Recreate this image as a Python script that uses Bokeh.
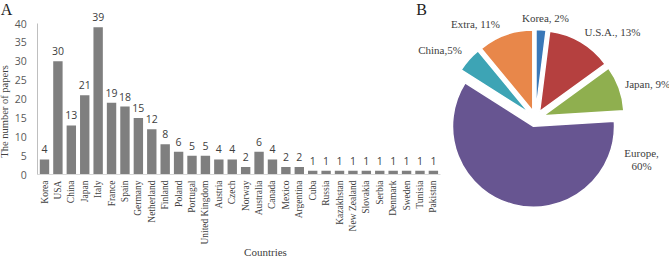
import math

from bokeh.core.properties import value
from bokeh.embed import file_html
from bokeh.models import FixedTicker, Label, LinearAxis, Range1d
from bokeh.plotting import figure
from bokeh.resources import INLINE

# Panel A: papers per country
countries = ["Korea", "USA", "China", "Japan", "Italy", "France", "Spain", "Germany",
             "Netherland", "Finland", "Poland", "Portugal", "United Kingdom", "Austria",
             "Czech", "Norway", "Australia", "Canada", "Mexico", "Argentina", "Cuba",
             "Russia", "Kazakhstan", "New Zealand", "Slovakia", "Serbia", "Denmark",
             "Sweden", "Tunisia", "Pakistan"]
papers = [4, 30, 13, 21, 39, 19, 18, 15, 12, 8, 6, 5, 5, 4, 4, 2, 6, 4, 2, 2,
          1, 1, 1, 1, 1, 1, 1, 1, 1, 1]
y_ticks = [0, 5, 10, 15, 20, 25, 30, 35, 40]

# Panel B: share by region (clockwise from 12 o'clock)
regions = ["Korea", "U.S.A.", "Japan", "Europe", "China", "Extra"]
shares = [2, 13, 9, 60, 5, 11]
separators = [", ", ", ", ", ", ",\n", ",", ", "]
region_colors = ["#3A78B8", "#B5403F", "#8FAF4F", "#675591", "#3DA4B5", "#E8874A"]

W, H = 669, 257

# bar panel scale (pixels per category / per paper)
step = 13.41
first_center = 44.0
unit = 3.775
zero_px = 174.0

x_start = -first_center / step
y_start = -(H - zero_px) / unit

p = figure(width=W, height=H,
           x_range=Range1d(x_start, x_start + W / step),
           y_range=Range1d(y_start, y_start + H / unit),
           x_axis_type=None, y_axis_type=None,
           output_backend="svg", toolbar_location=None, min_border=0)
p.outline_line_color = None
p.background_fill_color = "white"
p.border_fill_color = "white"

# pixel-based ranges for the pie and free labels
p.extra_x_ranges = {"px": Range1d(0, W)}
p.extra_y_ranges = {"py": Range1d(0, H)}

idx = list(range(len(countries)))
p.vbar(x=idx, top=papers, bottom=0, width=0.7, fill_color="#7F7F7F", line_color=None)
p.text(x=idx, y=papers, text=[str(v) for v in papers],
       text_align="center", text_baseline="bottom", y_offset=-6,
       text_font=value("Open Sans"), text_font_size="10.5px", text_color="#404040")

yax = LinearAxis(fixed_location=-0.5, bounds=(0, 40), ticker=FixedTicker(ticks=y_ticks))
yax.axis_line_color = "#BFBFBF"
yax.major_tick_line_color = None
yax.minor_tick_line_color = None
yax.major_tick_out = 0
yax.major_label_standoff = 11
yax.major_label_text_font = "Open Sans"
yax.major_label_text_font_size = "10.5px"
yax.major_label_text_color = "#595959"
p.add_layout(yax, "left")

xax = LinearAxis(fixed_location=0, bounds=(-0.5, len(countries) - 0.5),
                 ticker=FixedTicker(ticks=idx),
                 major_label_overrides={i: c for i, c in enumerate(countries)})
xax.major_label_orientation = math.pi / 2
xax.axis_line_color = "#D9D9D9"
xax.major_tick_line_color = None
xax.minor_tick_line_color = None
xax.major_tick_out = 0
xax.major_label_standoff = 6
xax.major_label_text_font = "Liberation Serif"
xax.major_label_text_font_size = "9.5px"
xax.major_label_text_color = "#404040"
p.add_layout(xax, "below")

serif = "Liberation Serif"
p.add_layout(Label(x=4, y=H - 111, text="The number of papers", angle=math.pi / 2,
                   text_align="center", text_baseline="middle", text_font=serif,
                   text_font_size="10.5px", text_color="#404040",
                   x_range_name="px", y_range_name="py"))
p.add_layout(Label(x=265, y=H - 251, text="Countries", text_align="center",
                   text_baseline="middle", text_font=serif, text_font_size="11px",
                   text_color="#404040", x_range_name="px", y_range_name="py"))
p.add_layout(Label(x=6, y=H - 9, text="A", text_align="center", text_baseline="middle",
                   text_font=serif, text_font_size="16px", text_color="#222222",
                   x_range_name="px", y_range_name="py"))
p.add_layout(Label(x=421, y=H - 9, text="B", text_align="center", text_baseline="middle",
                   text_font=serif, text_font_size="16px", text_color="#222222",
                   x_range_name="px", y_range_name="py"))

# exploded pie
cx, cy, radius, explode = 535.0, H - 118.0, 81.0, 8.0
total = float(sum(shares))
starts, ends, wx, wy = [], [], [], []
acc = 0.0
for s in shares:
    f0, f1 = acc / total, (acc + s) / total
    a_end = math.pi / 2 - 2 * math.pi * f0
    a_start = math.pi / 2 - 2 * math.pi * f1
    mid = (a_start + a_end) / 2
    starts.append(a_start)
    ends.append(a_end)
    wx.append(cx + explode * math.cos(mid))
    wy.append(cy + explode * math.sin(mid))
    acc += s

p.wedge(x=wx, y=wy, radius=radius, start_angle=starts, end_angle=ends,
        fill_color=region_colors, line_color="white", line_width=1.5,
        x_range_name="px", y_range_name="py")

label_px = [545, 612, 647, 641, 439.5, 475]
label_py = [H - 17, H - 31, H - 83, H - 159, H - 49.5, H - 23]
region_labels = [f"{n}{sep}{s}%" for n, sep, s in zip(regions, separators, shares)]
p.text(x=label_px, y=label_py, text=region_labels, text_align="center",
       text_baseline="middle", text_font=value(serif), text_font_size="11px",
       text_color="#404040", text_line_height=1.1,
       x_range_name="px", y_range_name="py")

open("out.html", "w").write(file_html(p, INLINE))
